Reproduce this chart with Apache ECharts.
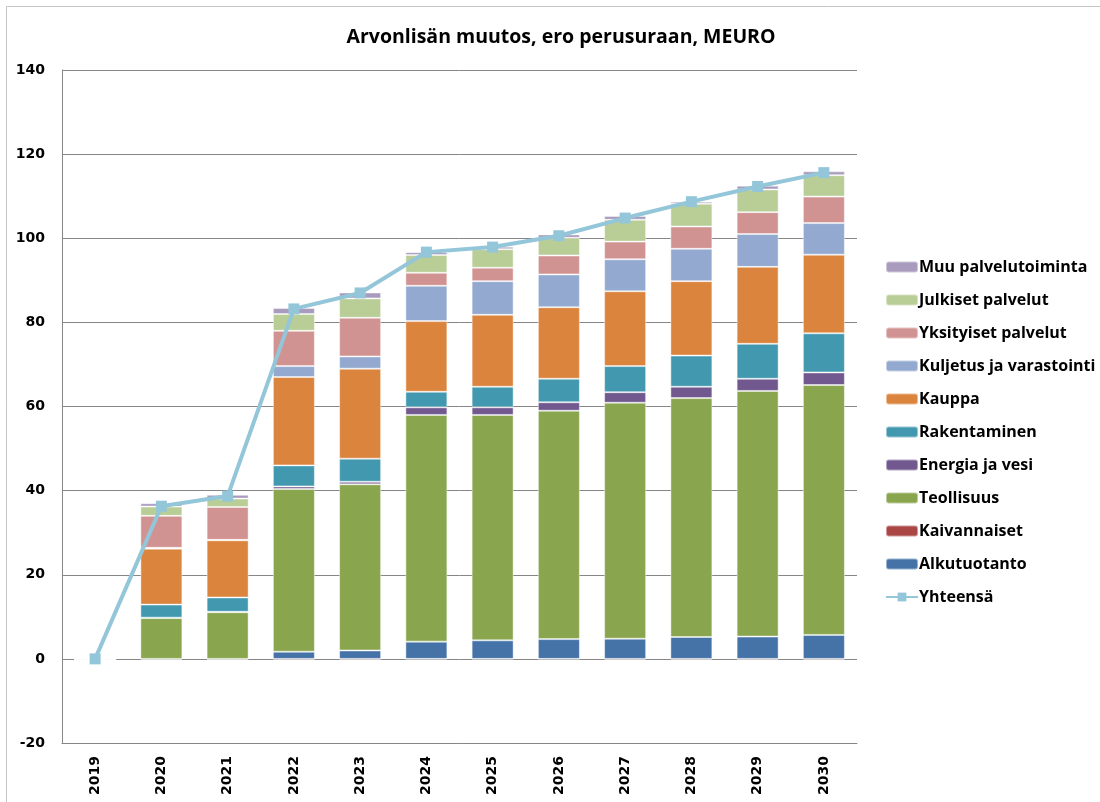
<!DOCTYPE html>
<html>
<head>
<meta charset="utf-8">
<script src="https://cdn.jsdelivr.net/npm/echarts@6/dist/echarts.min.js"></script>
<style>
  html, body { margin: 0; padding: 0; background: #fff; }
  #chart { width: 1100px; height: 802px; }
</style>
</head>
<body>
<div id="chart"></div>
<script>
const years = ['2019', '2020', '2021', '2022', '2023', '2024', '2025', '2026', '2027', '2028', '2029', '2030'];

// sarjat (MEUR), luettu kuvasta
const alkutuotanto = [0, -0.2, -0.2, 1.7, 2.0, 4.1, 4.4, 4.7, 4.8, 5.2, 5.3, 5.7];
const kaivannaiset = [0, -0.2, -0.2, -0.3, -0.3, -0.1, -0.1, -0.1, -0.3, -0.3, -0.3, -0.3];
const teollisuus = [0, 9.7, 11.1, 38.7, 39.5, 53.9, 53.6, 54.3, 56.1, 56.8, 58.4, 59.4];
const energia = [0, 0.1, 0.1, 0.6, 0.6, 1.8, 1.8, 2.0, 2.5, 2.7, 2.9, 3.0];
const rakentaminen = [0, 3.1, 3.4, 5.0, 5.5, 3.7, 4.9, 5.6, 6.2, 7.4, 8.3, 9.3];
const kauppa = [0, 13.3, 13.6, 21.0, 21.4, 16.8, 17.1, 17.0, 17.8, 17.7, 18.3, 18.7];
const kuljetus = [0, 0.2, 0.1, 2.6, 2.9, 8.4, 8.0, 7.8, 7.6, 7.7, 7.8, 7.5];
const yksityiset = [0, 7.6, 7.8, 8.4, 9.2, 3.1, 3.2, 4.5, 4.2, 5.3, 5.2, 6.3];
const julkiset = [0, 2.2, 2.0, 4.0, 4.6, 4.2, 4.4, 4.2, 5.2, 5.4, 5.4, 5.1];
const muu = [0, 0.8, 0.9, 1.4, 1.4, 0.7, 0.6, 0.8, 0.9, 0.5, 0.9, 0.9];
const yhteensa = [0, 36.3, 38.7, 83.2, 87.0, 96.7, 97.9, 100.6, 104.8, 108.7, 112.3, 115.6];

const yTicks = { min: -20, max: 140, interval: 20 };

const barSeries = [
  { name: 'Alkutuotanto', data: alkutuotanto, color: '#4572a7' },
  { name: 'Kaivannaiset', data: kaivannaiset, color: '#aa4643' },
  { name: 'Teollisuus', data: teollisuus, color: '#89a54e' },
  { name: 'Energia ja vesi', data: energia, color: '#71588f' },
  { name: 'Rakentaminen', data: rakentaminen, color: '#4198af' },
  { name: 'Kauppa', data: kauppa, color: '#db843d' },
  { name: 'Kuljetus ja varastointi', data: kuljetus, color: '#93a9cf' },
  { name: 'Yksityiset palvelut', data: yksityiset, color: '#d19392' },
  { name: 'Julkiset palvelut', data: julkiset, color: '#b9cd96' },
  { name: 'Muu palvelutoiminta', data: muu, color: '#a99bbd' }
];

const chart = echarts.init(document.getElementById('chart'));

const series = barSeries.map(s => ({
  name: s.name,
  type: 'bar',
  stack: 'arvo',
  barWidth: 42,
  data: s.data,
  itemStyle: {
    color: s.color,
    borderColor: 'rgba(255,255,255,0.45)',
    borderWidth: 1
  },
  emphasis: { disabled: true }
}));

series.push({
  name: 'Yhteensä',
  type: 'line',
  data: yhteensa,
  symbol: 'rect',
  symbolSize: 11,
  z: 10,
  lineStyle: { color: '#93c6d9', width: 4 },
  itemStyle: { color: '#93c6d9' }
});

chart.setOption({
  animation: false,
  color: barSeries.map(s => s.color).concat(['#93c6d9']),
  graphic: [{
    type: 'rect',
    shape: { x: 6.5, y: 6.5, width: 1200, height: 900 },
    style: { fill: 'none', stroke: '#c4c4c4', lineWidth: 1 },
    silent: true
  }],
  title: {
    text: 'Arvonlisän muutos, ero perusuraan, MEURO',
    left: 556,
    textAlign: 'center',
    top: 22,
    textStyle: {
      fontFamily: 'Open Sans',
      fontSize: 19.5,
      fontWeight: 'bold',
      color: '#000'
    }
  },
  legend: {
    orient: 'vertical',
    left: 880,
    top: 254,
    itemWidth: 32,
    itemHeight: 11,
    itemGap: 17,
    data: ['Muu palvelutoiminta', 'Julkiset palvelut', 'Yksityiset palvelut',
      'Kuljetus ja varastointi', 'Kauppa', 'Rakentaminen', 'Energia ja vesi',
      'Teollisuus', 'Kaivannaiset', 'Alkutuotanto', 'Yhteensä'],
    textStyle: {
      fontFamily: 'Open Sans',
      fontSize: 16,
      lineHeight: 16,
      fontWeight: 'bold',
      color: '#000',
      padding: [0, 0, 0, -4]
    }
  },
  grid: {
    left: 62,
    right: 243,
    top: 70,
    bottom: 59
  },
  xAxis: {
    type: 'category',
    data: years,
    axisLine: { onZero: false, lineStyle: { color: '#868686' } },
    axisTick: { show: false },
    axisLabel: {
      rotate: 90,
      margin: 13,
      fontFamily: 'DejaVu Sans',
      fontWeight: 'bold',
      fontSize: 14,
      color: '#000'
    }
  },
  yAxis: {
    type: 'value',
    min: yTicks.min,
    max: yTicks.max,
    interval: yTicks.interval,
    axisLine: { show: true, lineStyle: { color: '#868686' } },
    axisTick: { show: false },
    splitLine: { lineStyle: { color: '#868686', width: 1 } },
    axisLabel: {
      margin: 17,
      fontFamily: 'DejaVu Sans',
      fontWeight: 'bold',
      fontSize: 14,
      color: '#000'
    }
  },
  series: series
});
</script>
</body>
</html>
